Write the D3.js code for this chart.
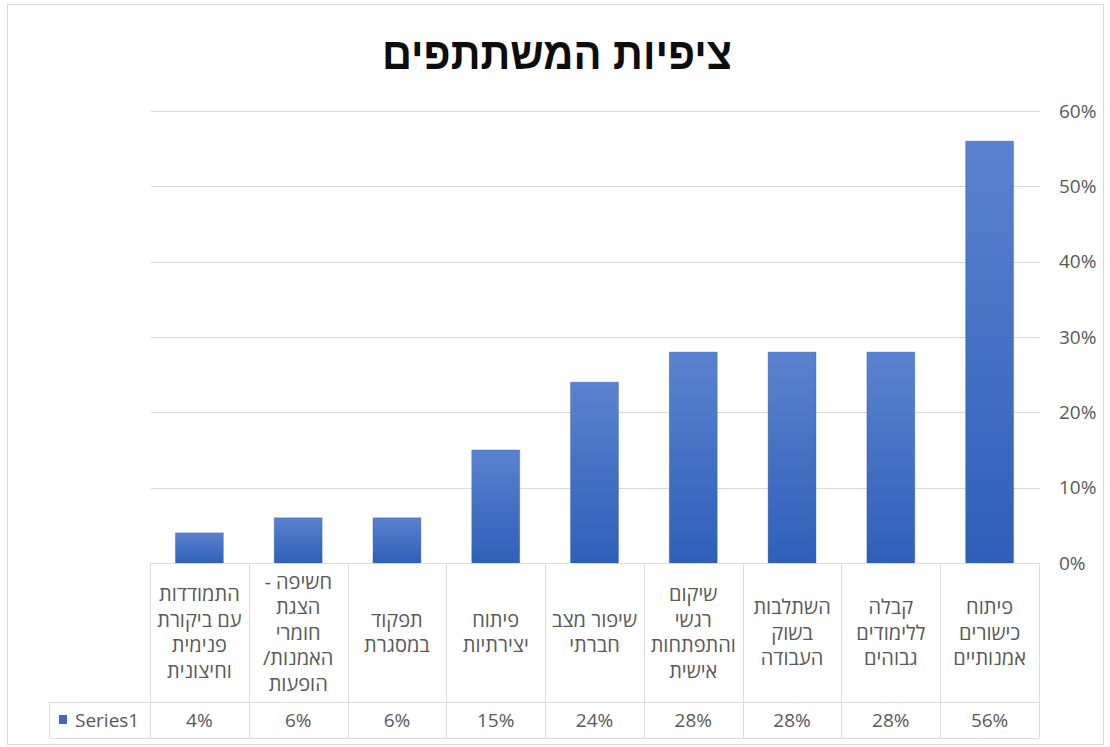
<!DOCTYPE html>
<html lang="he">
<head>
<meta charset="utf-8">
<script src="https://cdn.jsdelivr.net/npm/d3@7"></script>
<style>
  html, body { margin: 0; padding: 0; background: #fff; }
  svg { display: block; }
  .lbl { font-family: "Open Sans", "Liberation Sans", sans-serif; fill: #595959; }
</style>
</head>
<body>
<svg id="chart" width="1110" height="747"></svg>
<script>
// Chart data (first category is drawn at the right, as in a right-to-left sheet)
const title = "ציפיות המשתתפים";
const seriesName = "Series1";
const categories = [
  "פיתוח כישורים אמנותיים",
  "קבלה ללימודים גבוהים",
  "השתלבות בשוק העבודה",
  "שיקום רגשי והתפתחות אישית",
  "שיפור מצב חברתי",
  "פיתוח יצירתיות",
  "תפקוד במסגרת",
  "חשיפה - הצגת חומרי האמנות/הופעות",
  "התמודדות עם ביקורת פנימית וחיצונית"
];
// How each category name wraps inside its table cell
const categoryLines = [
  ["פיתוח", "כישורים", "אמנותיים"],
  ["קבלה", "ללימודים", "גבוהים"],
  ["השתלבות", "בשוק", "העבודה"],
  ["שיקום", "רגשי", "והתפתחות", "אישית"],
  ["שיפור מצב", "חברתי"],
  ["פיתוח", "יצירתיות"],
  ["תפקוד", "במסגרת"],
  ["חשיפה -", "הצגת", "חומרי", "האמנות/", "הופעות"],
  ["התמודדות", "עם ביקורת", "פנימית", "וחיצונית"]
];
const values = [0.56, 0.28, 0.28, 0.28, 0.24, 0.15, 0.06, 0.06, 0.04];
const yTicks = [0, 0.1, 0.2, 0.3, 0.4, 0.5, 0.6];

const svg = d3.select("#chart");

// Geometry
const plot = { left: 150, right: 1039, top: 111, bottom: 563 };
const table = { headBottom: 702, bottom: 738, keyLeft: 49 };
const gridColor = "#d9d9d9";
const tableColor = "#dcdcdc";

// Outer frame
svg.append("rect")
  .attr("x", 7.5).attr("y", 4.5)
  .attr("width", 1096).attr("height", 740)
  .attr("fill", "#fff").attr("stroke", "#d9d9d9");

// Scales: categories run right-to-left
const x = d3.scaleBand()
  .domain(categories)
  .range([plot.right, plot.left])
  .paddingInner(0.515)
  .paddingOuter(0.2575);
const step = x.step();
const bw = x.bandwidth();
const cellLeft = d => x(d) + bw / 2 - step / 2;

const y = d3.scaleLinear().domain([0, 0.6]).range([plot.bottom, plot.top]);

// Bar gradient
const defs = svg.append("defs");
const grad = defs.append("linearGradient")
  .attr("id", "barGrad").attr("x1", 0).attr("y1", 0).attr("x2", 0).attr("y2", 1);
grad.append("stop").attr("offset", "0%").attr("stop-color", "#5b82cf");
grad.append("stop").attr("offset", "100%").attr("stop-color", "#2f5fb8");

// Title
svg.append("text")
  .attr("x", 557).attr("y", 69)
  .attr("text-anchor", "middle")
  .attr("direction", "rtl")
  .attr("textLength", 350)
  .attr("lengthAdjust", "spacingAndGlyphs")
  .style("font-family", "'Liberation Sans', Arial, sans-serif")
  .style("font-weight", "bold")
  .style("font-size", "44px")
  .attr("fill", "#0d0d0d")
  .text(title);

// Horizontal gridlines
svg.append("g").selectAll("line")
  .data(yTicks.filter(t => t > 0))
  .join("line")
  .attr("x1", plot.left + 1).attr("x2", plot.right + 1)
  .attr("y1", d => Math.round(y(d)) + 0.5)
  .attr("y2", d => Math.round(y(d)) + 0.5)
  .attr("stroke", gridColor).attr("stroke-width", 1.2);

// Value axis on the right
const yAxis = d3.axisRight(y)
  .tickValues(yTicks)
  .tickFormat(d3.format(".0%"))
  .tickSize(0)
  .tickPadding(0);
const ay = svg.append("g")
  .attr("transform", `translate(${plot.right + 20},0)`)
  .call(yAxis);
ay.select(".domain").remove();
ay.selectAll("text")
  .attr("class", "lbl")
  .style("font-size", "19px")
  .attr("fill", "#595959");

// Bars
svg.append("g").selectAll("rect")
  .data(categories.map((c, i) => ({ c, v: values[i] })))
  .join("rect")
  .attr("x", d => x(d.c))
  .attr("width", bw)
  .attr("y", d => y(d.v))
  .attr("height", d => y(0) - y(d.v))
  .attr("fill", "url(#barGrad)")
  .attr("stroke", "#2c58a8").attr("stroke-opacity", 0.35).attr("stroke-width", 1);

// Data table below the plot
const tg = svg.append("g");
const hline = (x1, x2, yy) => tg.append("line")
  .attr("x1", x1).attr("x2", x2).attr("y1", yy + 0.5).attr("y2", yy + 0.5)
  .attr("stroke", tableColor);
const vline = (xx, y1, y2) => tg.append("line")
  .attr("x1", xx + 0.5).attr("x2", xx + 0.5).attr("y1", y1).attr("y2", y2)
  .attr("stroke", tableColor);

hline(plot.left, plot.right, plot.bottom);
hline(table.keyLeft, plot.right, table.headBottom);
hline(table.keyLeft, plot.right, table.bottom);
vline(table.keyLeft, table.headBottom, table.bottom);
categories.forEach(c => vline(Math.round(cellLeft(c)), plot.bottom, table.bottom));
vline(plot.right, plot.bottom, table.bottom);

// Category names
const lineH = 25.5;
const headMid = (plot.bottom + table.headBottom) / 2;
categories.forEach((c, i) => {
  const lines = categoryLines[i];
  const cx = x(c) + bw / 2;
  const t = tg.append("text")
    .attr("class", "lbl")
    .attr("text-anchor", "middle")
    .attr("direction", "rtl")
    .style("font-size", "20px");
  lines.forEach((ln, j) => {
    t.append("tspan")
      .attr("x", cx)
      .attr("y", headMid + (j - (lines.length - 1) / 2) * lineH)
      .attr("dy", "0.35em")
      .text(ln);
  });
});

// Values row
const valMid = (table.headBottom + table.bottom) / 2;
categories.forEach((c, i) => {
  tg.append("text")
    .attr("class", "lbl")
    .attr("x", x(c) + bw / 2)
    .attr("y", valMid)
    .attr("dy", "0.35em")
    .attr("text-anchor", "middle")
    .style("font-size", "19px")
    .text(d3.format(".0%")(values[i]));
});

// Legend key cell
tg.append("rect")
  .attr("x", 59).attr("y", 715).attr("width", 8).attr("height", 9)
  .attr("fill", "#3b68c0");
tg.append("text")
  .attr("class", "lbl")
  .attr("x", 75).attr("y", valMid)
  .attr("dy", "0.35em")
  .style("font-size", "19px")
  .text(seriesName);
</script>
</body>
</html>
